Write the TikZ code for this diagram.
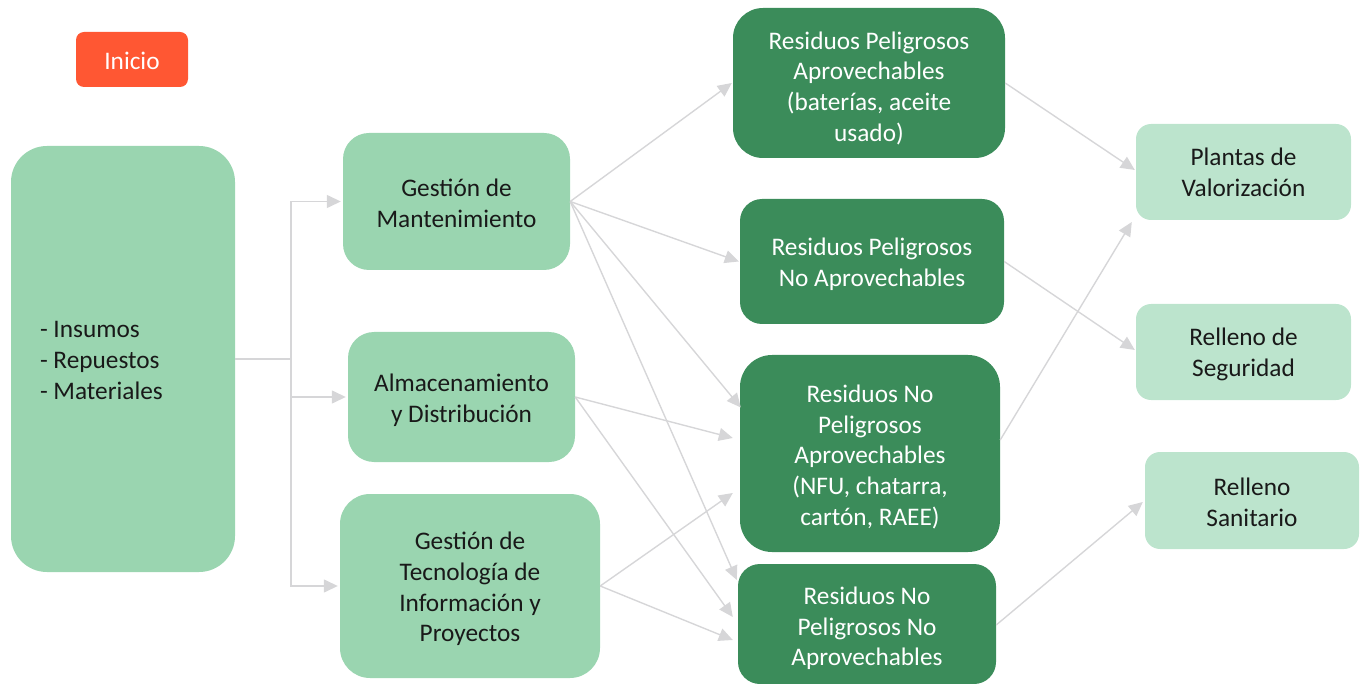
\documentclass[tikz,border=0pt]{standalone}
\usepackage{fontspec}
\setmainfont{Carlito}
\usetikzlibrary{arrows.meta}
\definecolor{lightg}{HTML}{9AD5B0}
\definecolor{darkg}{HTML}{3B8C5A}
\definecolor{paleg}{HTML}{BCE4CD}
\definecolor{orng}{HTML}{FF5733}
\definecolor{conn}{HTML}{D6D6D8}
\tikzset{
  box/.style={rectangle, inner sep=0pt},
  lbox/.style={box, fill=lightg},
  dbox/.style={box, fill=darkg},
  pbox/.style={box, fill=paleg},
  txt/.style={inner sep=0pt, align=center, text depth=0pt, font=\fontsize{25.3}{30.7}\selectfont, text=black!90},
  wtxt/.style={txt, text=white},
  arr/.style={draw=conn, line width=1.4pt, -{Triangle[length=14pt,width=13pt,fill=conn]}},
  ln/.style={draw=conn, line width=1.4pt}
}
\begin{document}
\begin{tikzpicture}[x=1pt,y=-1pt]
\useasboundingbox (0,0) rectangle (1362,684);
% Inicio
\node[box, fill=orng, rounded corners=8pt, minimum width=112pt, minimum height=55pt] (ini) at (132,59.5) {};
\node[wtxt] (init) at ([yshift=-1pt]ini.center) {Inicio};
% left big
\node[lbox, rounded corners=36pt, minimum width=224pt, minimum height=426pt] (big) at (123,359) {};
\node[txt, align=left, anchor=west] (bigt) at ([xshift=29pt,yshift=-1.5pt]big.west) {- Insumos\\- Repuestos\\- Materiales};
% middle column
\node[lbox, rounded corners=26pt, minimum width=227pt, minimum height=137pt] (gm) at (456.5,201.5) {};
\node[txt] (gmt) at ([yshift=-1.5pt]gm.center) {Gestión de\\Mantenimiento};
\node[lbox, rounded corners=26pt, minimum width=227pt, minimum height=130pt] (ad) at (461.5,397) {};
\node[txt] (adt) at ([yshift=-1pt]ad.center) {Almacenamiento\\y Distribución};
\node[lbox, rounded corners=30pt, minimum width=260pt, minimum height=184pt] (gt) at (470,586) {};
\node[txt] (gtt) at ([yshift=-1pt]gt.center) {Gestión de\\Tecnología de\\Información y\\Proyectos};
% dark column
\node[dbox, rounded corners=30pt, minimum width=272pt, minimum height=150pt] (rpa) at (869,83) {};
\node[wtxt] (rpat) at ([yshift=-3.5pt]rpa.center) {Residuos Peligrosos\\Aprovechables\\(baterías, aceite\\usado)};
\node[dbox, rounded corners=22pt, minimum width=264pt, minimum height=125pt] (rpna) at (872,261.5) {};
\node[wtxt] (rpnat) at ([yshift=-0.5pt]rpna.center) {Residuos Peligrosos\\No Aprovechables};
\node[dbox, rounded corners=32pt, minimum width=260pt, minimum height=197pt] (rnpa) at (870,453.5) {};
\node[wtxt] (rnpat) at ([yshift=-1.5pt]rnpa.center) {Residuos No\\Peligrosos\\Aprovechables\\(NFU, chatarra,\\cartón, RAEE)};
\node[dbox, rounded corners=22pt, minimum width=258pt, minimum height=120pt] (rnpna) at (867,624) {};
\node[wtxt] (rnpnat) at ([yshift=-2.5pt]rnpna.center) {Residuos No\\Peligrosos No\\Aprovechables};
% right column
\node[pbox, rounded corners=15pt, minimum width=215pt, minimum height=96pt] (pv) at (1243.5,172) {};
\node[txt] (pvt) at (pv.center) {Plantas de\\Valorización};
\node[pbox, rounded corners=15pt, minimum width=215pt, minimum height=96pt] (rs) at (1243.5,352) {};
\node[txt] (rst) at (rs.center) {Relleno de\\Seguridad};
\node[pbox, rounded corners=15pt, minimum width=214pt, minimum height=97pt] (rsan) at (1252,500.5) {};
\node[txt] (rsant) at ([yshift=-1.5pt]rsan.center) {Relleno\\Sanitario};
% left connectors
\coordinate (j) at (291,359);
\draw[ln] (big.east) -- (j);
\draw[arr] (j) |- ([xshift=-2pt]gm.west);
\draw[arr] (j) |- ([xshift=-2pt]ad.west);
\draw[arr] (j) |- ([xshift=-2pt]gt.west);
% middle to dark
\draw[arr] (gm.east) -- ([xshift=-1pt]rpa.west);
\draw[arr] (gm.east) -- ([xshift=-1pt]rpna.west);
\draw[arr] (gm.east) -- ([xshift=1pt,yshift=46pt]rnpa.west);
\draw[arr] (gm.east) -- ([xshift=-1pt,yshift=44pt]rnpna.west);
\draw[arr] (ad.east) -- ([xshift=-7pt,yshift=15.5pt]rnpa.west);
\draw[arr] (ad.east) -- ([xshift=-5pt,yshift=7pt]rnpna.west);
\draw[arr] (gt.east) -- ([xshift=-7pt,yshift=-39.5pt]rnpa.west);
\draw[arr] (gt.east) -- ([xshift=-5pt,yshift=-16pt]rnpna.west);
% dark to right
\draw[arr] (rpa.east) -- ([xshift=-1pt,yshift=2pt]pv.west);
\draw[arr] (rpna.east) -- ([xshift=-1pt,yshift=2pt]rs.west);
\draw[arr] ([yshift=13.5pt]rnpa.east) -- ([xshift=-4pt,yshift=-50pt]pv.west);
\draw[arr] ([yshift=-1pt]rnpna.east) -- ([xshift=-2pt,yshift=-1.5pt]rsan.west);
\end{tikzpicture}
\end{document}
